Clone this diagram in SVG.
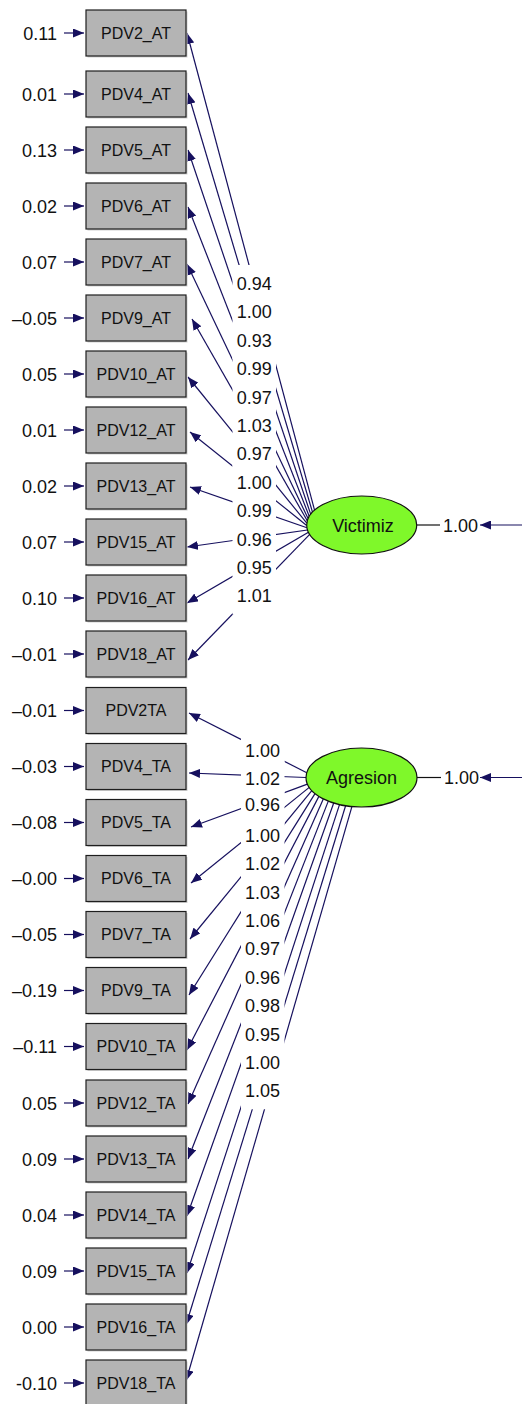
<svg xmlns="http://www.w3.org/2000/svg" width="522" height="1404" viewBox="0 0 522 1404">
<style>
.bx{fill:#b4b4b4;stroke:#1e1e1e;stroke-width:1.2}
.sh{fill:#d0d0d0}
.bt{font-family:"Liberation Sans",Arial,Helvetica,sans-serif;font-size:16px;fill:#111;text-anchor:middle}
.et{font-family:"Liberation Sans",Arial,Helvetica,sans-serif;font-size:18px;fill:#111;text-anchor:end}
.lt{font-family:"Liberation Sans",Arial,Helvetica,sans-serif;font-size:18px;fill:#111;text-anchor:middle}
.rt{font-family:"Liberation Sans",Arial,Helvetica,sans-serif;font-size:18px;fill:#111;text-anchor:start}
.nt{font-family:"Liberation Sans",Arial,Helvetica,sans-serif;font-size:18px;fill:#111;text-anchor:middle}
.ln{stroke:#16105e;stroke-width:1.2;fill:none;marker-end:url(#ah)}
.bl{stroke:#111;stroke-width:1.2}
.bg{fill:#fff}
.el{fill:#7ff82a;stroke:#111;stroke-width:1.2}
</style>
<defs>
<marker id="ah" markerUnits="userSpaceOnUse" viewBox="0 0 11 9" refX="11" refY="4.5" markerWidth="11" markerHeight="9" orient="auto">
<path d="M0,0 L11,4.5 L0,9 z" fill="#16105e"/>
</marker>
</defs>

<g id="connectors">
<!-- error arrows -->
<line class="ln" x1="64" y1="33" x2="84" y2="33"/>
<line class="ln" x1="64" y1="94" x2="84" y2="94"/>
<line class="ln" x1="64" y1="150" x2="84" y2="150"/>
<line class="ln" x1="64" y1="206" x2="84" y2="206"/>
<line class="ln" x1="64" y1="262" x2="84" y2="262"/>
<line class="ln" x1="64" y1="318" x2="84" y2="318"/>
<line class="ln" x1="64" y1="374" x2="84" y2="374"/>
<line class="ln" x1="64" y1="430" x2="84" y2="430"/>
<line class="ln" x1="64" y1="486" x2="84" y2="486"/>
<line class="ln" x1="64" y1="542" x2="84" y2="542"/>
<line class="ln" x1="64" y1="598" x2="84" y2="598"/>
<line class="ln" x1="64" y1="654" x2="84" y2="654"/>
<line class="ln" x1="64" y1="710.5" x2="84" y2="710.5"/>
<line class="ln" x1="64" y1="766.5" x2="84" y2="766.5"/>
<line class="ln" x1="64" y1="822.5" x2="84" y2="822.5"/>
<line class="ln" x1="64" y1="878.5" x2="84" y2="878.5"/>
<line class="ln" x1="64" y1="934.5" x2="84" y2="934.5"/>
<line class="ln" x1="64" y1="990.5" x2="84" y2="990.5"/>
<line class="ln" x1="64" y1="1046.5" x2="84" y2="1046.5"/>
<line class="ln" x1="64" y1="1103" x2="84" y2="1103"/>
<line class="ln" x1="64" y1="1159" x2="84" y2="1159"/>
<line class="ln" x1="64" y1="1215" x2="84" y2="1215"/>
<line class="ln" x1="64" y1="1271" x2="84" y2="1271"/>
<line class="ln" x1="64" y1="1327" x2="84" y2="1327"/>
<line class="ln" x1="64" y1="1383" x2="84" y2="1383"/>
<!-- Victimiz loadings -->
<line class="ln" x1="314.55" y1="510.07" x2="187" y2="33"/>
<line class="ln" x1="312.48" y1="512.06" x2="188" y2="93"/>
<line class="ln" x1="310.67" y1="514.18" x2="188" y2="150"/>
<line class="ln" x1="309.22" y1="516.33" x2="188" y2="207"/>
<line class="ln" x1="308.07" y1="518.58" x2="187" y2="264"/>
<line class="ln" x1="307.28" y1="520.81" x2="192" y2="319"/>
<line class="ln" x1="306.81" y1="523.13" x2="188" y2="377"/>
<line class="ln" x1="306.71" y1="525.41" x2="190" y2="432"/>
<line class="ln" x1="306.94" y1="527.73" x2="190" y2="487"/>
<line class="ln" x1="307.52" y1="529.99" x2="187" y2="547"/>
<line class="ln" x1="308.45" y1="532.26" x2="187" y2="603"/>
<line class="ln" x1="309.70" y1="534.44" x2="188" y2="660"/>
<!-- Agresion loadings -->
<line class="ln" x1="306.75" y1="772.7" x2="189" y2="713"/>
<line class="ln" x1="306" y1="777.5" x2="189" y2="773"/>
<line class="ln" x1="307.4" y1="784.1" x2="191" y2="827"/>
<line class="ln" x1="309.25" y1="787.4" x2="191" y2="883"/>
<line class="ln" x1="311.8" y1="790.6" x2="190" y2="939"/>
<line class="ln" x1="315.0" y1="793.6" x2="189" y2="995"/>
<line class="ln" x1="318.9" y1="796.4" x2="187" y2="1050"/>
<line class="ln" x1="323.3" y1="798.9" x2="188" y2="1104"/>
<line class="ln" x1="328.3" y1="801.1" x2="188" y2="1159"/>
<line class="ln" x1="333.7" y1="803.0" x2="187" y2="1216"/>
<line class="ln" x1="339.5" y1="804.6" x2="187" y2="1273"/>
<line class="ln" x1="345.6" y1="805.8" x2="186" y2="1325"/>
<line class="ln" x1="351.9" y1="806.6" x2="186" y2="1381"/>
<!-- latent variances -->
<line class="bl" x1="417" y1="525" x2="440" y2="525"/>
<line class="ln" x1="522" y1="525" x2="480" y2="525"/>
<line class="bl" x1="417" y1="777.5" x2="441" y2="777.5"/>
<line class="ln" x1="522" y1="777.5" x2="480" y2="777.5"/>
</g>

<g id="loading-labels">
<rect class="bg" x="232.5" y="265" width="43.5" height="37"/>
<rect class="bg" x="232.5" y="293.4" width="43.5" height="37"/>
<rect class="bg" x="232.5" y="321.8" width="43.5" height="37"/>
<rect class="bg" x="232.5" y="350.2" width="43.5" height="37"/>
<rect class="bg" x="232.5" y="378.6" width="43.5" height="37"/>
<rect class="bg" x="232.5" y="407" width="43.5" height="37"/>
<rect class="bg" x="232.5" y="435.4" width="43.5" height="37"/>
<rect class="bg" x="232.5" y="463.8" width="43.5" height="37"/>
<rect class="bg" x="232.5" y="492.2" width="43.5" height="37"/>
<rect class="bg" x="232.5" y="520.6" width="43.5" height="37"/>
<rect class="bg" x="232.5" y="549" width="43.5" height="37"/>
<rect class="bg" x="232.5" y="577.4" width="43.5" height="37"/>
<rect class="bg" x="241" y="731.5" width="43.5" height="37"/>
<rect class="bg" x="241" y="759.9" width="43.5" height="37"/>
<rect class="bg" x="241" y="788.3" width="43.5" height="37"/>
<rect class="bg" x="241" y="816.7" width="43.5" height="37"/>
<rect class="bg" x="241" y="845.1" width="43.5" height="37"/>
<rect class="bg" x="241" y="873.5" width="43.5" height="37"/>
<rect class="bg" x="241" y="901.9" width="43.5" height="37"/>
<rect class="bg" x="241" y="930.3" width="43.5" height="37"/>
<rect class="bg" x="241" y="958.7" width="43.5" height="37"/>
<rect class="bg" x="241" y="987.1" width="43.5" height="37"/>
<rect class="bg" x="241" y="1015.5" width="43.5" height="37"/>
<rect class="bg" x="241" y="1043.9" width="43.5" height="37"/>
<rect class="bg" x="241" y="1072.3" width="43.5" height="37"/>
<text class="lt" x="254.2" y="290">0.94</text>
<text class="lt" x="254.2" y="318.4">1.00</text>
<text class="lt" x="254.2" y="346.8">0.93</text>
<text class="lt" x="254.2" y="375.2">0.99</text>
<text class="lt" x="254.2" y="403.6">0.97</text>
<text class="lt" x="254.2" y="432">1.03</text>
<text class="lt" x="254.2" y="460.4">0.97</text>
<text class="lt" x="254.2" y="488.8">1.00</text>
<text class="lt" x="254.2" y="517.2">0.99</text>
<text class="lt" x="254.2" y="545.6">0.96</text>
<text class="lt" x="254.2" y="574">0.95</text>
<text class="lt" x="254.2" y="602.4">1.01</text>
<text class="lt" x="262.5" y="756.5">1.00</text>
<text class="lt" x="262.5" y="784.9">1.02</text>
<text class="lt" x="262.5" y="811.3">0.96</text>
<text class="lt" x="262.5" y="841.7">1.00</text>
<text class="lt" x="262.5" y="870.1">1.02</text>
<text class="lt" x="262.5" y="898.5">1.03</text>
<text class="lt" x="262.5" y="926.9">1.06</text>
<text class="lt" x="262.5" y="955.3">0.97</text>
<text class="lt" x="262.5" y="983.7">0.96</text>
<text class="lt" x="262.5" y="1012.1">0.98</text>
<text class="lt" x="262.5" y="1040.5">0.95</text>
<text class="lt" x="262.5" y="1068.9">1.00</text>
<text class="lt" x="262.5" y="1097.3">1.05</text>
<text class="rt" x="443" y="531.5">1.00</text>
<text class="rt" x="444" y="784">1.00</text>
</g>

<g id="error-labels">
<text class="et" x="57" y="39.5">0.11</text>
<text class="et" x="57" y="100.5">0.01</text>
<text class="et" x="57" y="156.5">0.13</text>
<text class="et" x="57" y="212.5">0.02</text>
<text class="et" x="57" y="268.5">0.07</text>
<text class="et" x="57" y="324.5">–0.05</text>
<text class="et" x="57" y="380.5">0.05</text>
<text class="et" x="57" y="436.5">0.01</text>
<text class="et" x="57" y="492.5">0.02</text>
<text class="et" x="57" y="548.5">0.07</text>
<text class="et" x="57" y="604.5">0.10</text>
<text class="et" x="57" y="660.5">–0.01</text>
<text class="et" x="57" y="717">–0.01</text>
<text class="et" x="57" y="773">–0.03</text>
<text class="et" x="57" y="829">–0.08</text>
<text class="et" x="57" y="885">–0.00</text>
<text class="et" x="57" y="941">–0.05</text>
<text class="et" x="57" y="997">–0.19</text>
<text class="et" x="57" y="1053">–0.11</text>
<text class="et" x="57" y="1109.5">0.05</text>
<text class="et" x="57" y="1165.5">0.09</text>
<text class="et" x="57" y="1221.5">0.04</text>
<text class="et" x="57" y="1277.5">0.09</text>
<text class="et" x="57" y="1333.5">0.00</text>
<text class="et" x="57" y="1389.5">-0.10</text>
</g>

<g id="PDV2_AT"><rect class="sh" x="87.5" y="11.5" width="100" height="46"/><rect class="bx" x="86" y="10" width="100" height="46"/><text class="bt" x="136" y="38.7">PDV2_AT</text></g>
<g id="PDV4_AT"><rect class="sh" x="87.5" y="72.5" width="100" height="46"/><rect class="bx" x="86" y="71" width="100" height="46"/><text class="bt" x="136" y="99.7">PDV4_AT</text></g>
<g id="PDV5_AT"><rect class="sh" x="87.5" y="128.5" width="100" height="46"/><rect class="bx" x="86" y="127" width="100" height="46"/><text class="bt" x="136" y="155.7">PDV5_AT</text></g>
<g id="PDV6_AT"><rect class="sh" x="87.5" y="184.5" width="100" height="46"/><rect class="bx" x="86" y="183" width="100" height="46"/><text class="bt" x="136" y="211.7">PDV6_AT</text></g>
<g id="PDV7_AT"><rect class="sh" x="87.5" y="240.5" width="100" height="46"/><rect class="bx" x="86" y="239" width="100" height="46"/><text class="bt" x="136" y="267.7">PDV7_AT</text></g>
<g id="PDV9_AT"><rect class="sh" x="87.5" y="296.5" width="100" height="46"/><rect class="bx" x="86" y="295" width="100" height="46"/><text class="bt" x="136" y="323.7">PDV9_AT</text></g>
<g id="PDV10_AT"><rect class="sh" x="87.5" y="352.5" width="100" height="46"/><rect class="bx" x="86" y="351" width="100" height="46"/><text class="bt" x="136" y="379.7">PDV10_AT</text></g>
<g id="PDV12_AT"><rect class="sh" x="87.5" y="408.5" width="100" height="46"/><rect class="bx" x="86" y="407" width="100" height="46"/><text class="bt" x="136" y="435.7">PDV12_AT</text></g>
<g id="PDV13_AT"><rect class="sh" x="87.5" y="464.5" width="100" height="46"/><rect class="bx" x="86" y="463" width="100" height="46"/><text class="bt" x="136" y="491.7">PDV13_AT</text></g>
<g id="PDV15_AT"><rect class="sh" x="87.5" y="520.5" width="100" height="46"/><rect class="bx" x="86" y="519" width="100" height="46"/><text class="bt" x="136" y="547.7">PDV15_AT</text></g>
<g id="PDV16_AT"><rect class="sh" x="87.5" y="576.5" width="100" height="46"/><rect class="bx" x="86" y="575" width="100" height="46"/><text class="bt" x="136" y="603.7">PDV16_AT</text></g>
<g id="PDV18_AT"><rect class="sh" x="87.5" y="632.5" width="100" height="46"/><rect class="bx" x="86" y="631" width="100" height="46"/><text class="bt" x="136" y="659.7">PDV18_AT</text></g>
<g id="PDV2TA"><rect class="sh" x="87.5" y="689" width="100" height="46"/><rect class="bx" x="86" y="687.5" width="100" height="46"/><text class="bt" x="136" y="716.2">PDV2TA</text></g>
<g id="PDV4_TA"><rect class="sh" x="87.5" y="745" width="100" height="46"/><rect class="bx" x="86" y="743.5" width="100" height="46"/><text class="bt" x="136" y="772.2">PDV4_TA</text></g>
<g id="PDV5_TA"><rect class="sh" x="87.5" y="801" width="100" height="46"/><rect class="bx" x="86" y="799.5" width="100" height="46"/><text class="bt" x="136" y="828.2">PDV5_TA</text></g>
<g id="PDV6_TA"><rect class="sh" x="87.5" y="857" width="100" height="46"/><rect class="bx" x="86" y="855.5" width="100" height="46"/><text class="bt" x="136" y="884.2">PDV6_TA</text></g>
<g id="PDV7_TA"><rect class="sh" x="87.5" y="913" width="100" height="46"/><rect class="bx" x="86" y="911.5" width="100" height="46"/><text class="bt" x="136" y="940.2">PDV7_TA</text></g>
<g id="PDV9_TA"><rect class="sh" x="87.5" y="969" width="100" height="46"/><rect class="bx" x="86" y="967.5" width="100" height="46"/><text class="bt" x="136" y="996.2">PDV9_TA</text></g>
<g id="PDV10_TA"><rect class="sh" x="87.5" y="1025" width="100" height="46"/><rect class="bx" x="86" y="1023.5" width="100" height="46"/><text class="bt" x="136" y="1052.2">PDV10_TA</text></g>
<g id="PDV12_TA"><rect class="sh" x="87.5" y="1081.5" width="100" height="46"/><rect class="bx" x="86" y="1080" width="100" height="46"/><text class="bt" x="136" y="1108.7">PDV12_TA</text></g>
<g id="PDV13_TA"><rect class="sh" x="87.5" y="1137.5" width="100" height="46"/><rect class="bx" x="86" y="1136" width="100" height="46"/><text class="bt" x="136" y="1164.7">PDV13_TA</text></g>
<g id="PDV14_TA"><rect class="sh" x="87.5" y="1193.5" width="100" height="46"/><rect class="bx" x="86" y="1192" width="100" height="46"/><text class="bt" x="136" y="1220.7">PDV14_TA</text></g>
<g id="PDV15_TA"><rect class="sh" x="87.5" y="1249.5" width="100" height="46"/><rect class="bx" x="86" y="1248" width="100" height="46"/><text class="bt" x="136" y="1276.7">PDV15_TA</text></g>
<g id="PDV16_TA"><rect class="sh" x="87.5" y="1305.5" width="100" height="46"/><rect class="bx" x="86" y="1304" width="100" height="46"/><text class="bt" x="136" y="1332.7">PDV16_TA</text></g>
<g id="PDV18_TA"><rect class="sh" x="87.5" y="1361.5" width="100" height="46"/><rect class="bx" x="86" y="1360" width="100" height="46"/><text class="bt" x="136" y="1388.7">PDV18_TA</text></g>

<g id="Victimiz"><ellipse class="el" cx="361.7" cy="525" rx="55" ry="29"/><text class="nt" x="363" y="531.5">Victimiz</text></g>
<g id="Agresion"><ellipse class="el" cx="361.5" cy="777.5" rx="55.5" ry="29.5"/><text class="nt" x="361.5" y="784">Agresion</text></g>
</svg>
